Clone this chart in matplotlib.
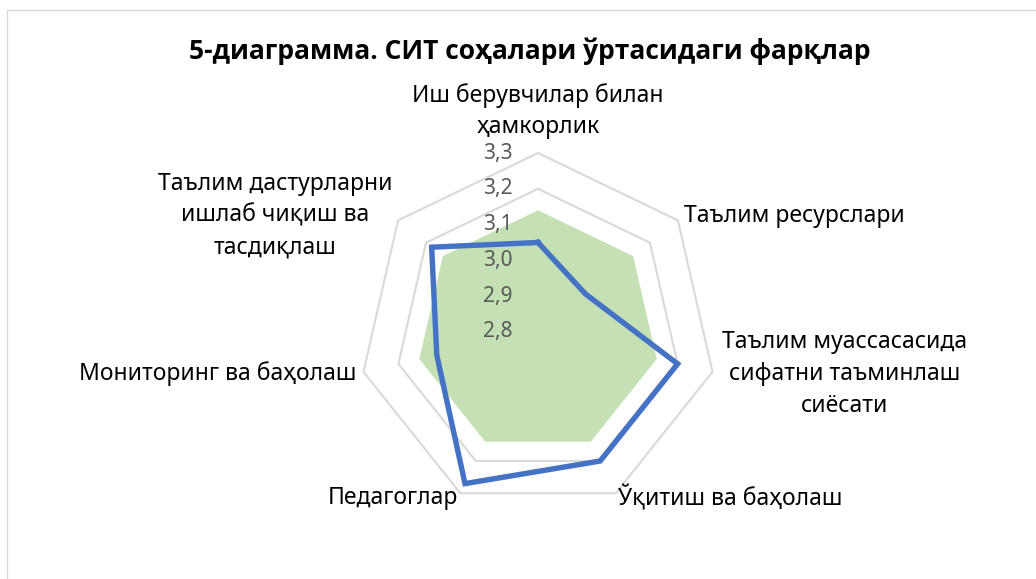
import numpy as np
import matplotlib.pyplot as plt
from matplotlib.lines import Line2D

plt.rcParams['font.family'] = ['Noto Sans', 'DejaVu Sans']

# chart data
categories = [
    'Иш берувчилар билан\nҳамкорлик',
    'Таълим ресурслари',
    'Таълим муассасасида\nсифатни таъминлаш\nсиёсати',
    'Ўқитиш ва баҳолаш',
    'Педагоглар',
    'Мониторинг ва баҳолаш',
    'Таълим дастурларни\nишлаб чиқиш ва\nтасдиқлаш',
]
scores = [3.05, 2.97, 3.20, 3.20, 3.27, 3.09, 3.18]
average = [3.14, 3.14, 3.14, 3.14, 3.14, 3.14, 3.14]
r_ticks = [2.8, 2.9, 3.0, 3.1, 3.2, 3.3]
r_tick_labels = ['2,8', '2,9', '3,0', '3,1', '3,2', '3,3']
title = '5-диаграмма. СИТ соҳалари ўртасидаги фарқлар'

W, H = 1036, 579
fig = plt.figure(figsize=(W / 100, H / 100), dpi=100)

# light chart-area border (top and left visible)
fig.add_artist(Line2D([7 / W, 1], [1 - 10 / H, 1 - 10 / H], transform=fig.transFigure, color='#d9d9d9', lw=1))
fig.add_artist(Line2D([7 / W, 7 / W], [0, 1 - 10 / H], transform=fig.transFigure, color='#d9d9d9', lw=1))

cx, cy, R = 538, H - 332, 179
ax = fig.add_axes([(cx - R) / W, (cy - R) / H, 2 * R / W, 2 * R / H], projection='polar')
ax.set_theta_offset(np.pi / 2)
ax.set_theta_direction(-1)
ax.set_ylim(r_ticks[0], r_ticks[-1])
ax.set_axis_off()

n = len(categories)
theta = np.arange(n) * 2 * np.pi / n
theta_c = np.append(theta, theta[0])

# heptagon gridlines
for lvl in r_ticks[1:]:
    ax.plot(theta_c, [lvl] * (n + 1), color='#d9d9d9', lw=1.5, zorder=1, clip_on=False)

ax.fill(theta_c, np.append(average, average[0]), color='#c5e0b4', lw=0, zorder=2)
ax.plot(theta_c, np.append(scores, scores[0]), color='#4472c4', lw=3.9, zorder=3,
        solid_joinstyle='miter', clip_on=False)

for v, lab in zip(r_ticks, r_tick_labels):
    ax.annotate(lab, (0, v), xytext=(-25, 0), textcoords='offset pixels',
                ha='right', va='center', fontsize=15, color='#595959', zorder=4)

label_r = [3.338, 3.32, 3.327, 3.315, 3.315, 3.32, 3.32]
aligns = [('center', 'bottom'), ('left', 'center'), ('left', 'center'), ('left', 'center'),
          ('right', 'center'), ('right', 'center'), ('right', 'center')]
for t, r, lab, (ha, va) in zip(theta, label_r, categories, aligns):
    ax.text(t, r, lab, ha=ha, va=va, multialignment='center', fontsize=16.5,
            color='#000000', linespacing=1.42, clip_on=False)

fig.text(530 / W, 1 - 51 / H, title, ha='center', va='center', fontsize=19,
         fontweight='bold', family=['Open Sans', 'DejaVu Sans'])

fig.savefig('out.png', dpi=100)
